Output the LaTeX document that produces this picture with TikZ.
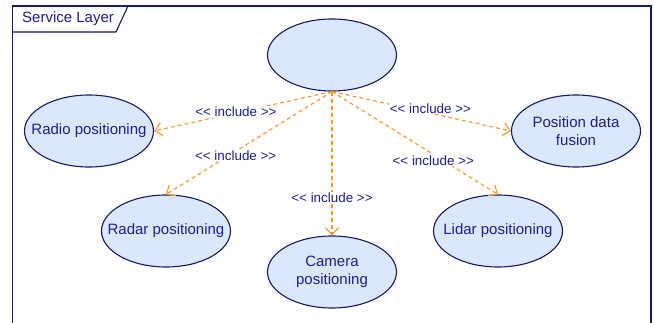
\documentclass[tikz,border=0pt]{standalone}
\usepackage{fontspec}
\setmainfont[Ligatures=NoCommon]{Liberation Sans}
\usetikzlibrary{shapes.geometric,arrows.meta}
\definecolor{navy}{RGB}{24,24,110}
\definecolor{txtblue}{RGB}{30,30,150}
\definecolor{ucfill}{RGB}{218,232,252}
\definecolor{incor}{RGB}{255,150,40}
\newcommand{\inctext}{{<}{<} include {>}{>}}
\tikzset{
  usecase/.style={ellipse,draw=navy,line width=1.1pt,fill=ucfill,minimum width=129pt,minimum height=72pt,inner sep=0pt,
    label={[text=txtblue,font=\fontsize{15}{18}\selectfont,align=center]center:#1}},
  usecase/.default={},
  inc/.style={draw=incor,line width=1.1pt,dash pattern=on 4pt off 3pt,-{Straight Barb[length=7pt,width=13pt,line width=1.1pt]}},
  inclbl/.style={fill=white,inner sep=1pt,text=txtblue,font=\fontsize{13.4}{15}\selectfont},
  framelbl/.style={text=txtblue,font=\fontsize{15}{18}\selectfont,anchor=west,inner sep=0pt}
}
\begin{document}
\begin{tikzpicture}[x=1pt,y=-1pt]
\useasboundingbox (0,0) rectangle (654,323);
\fill[white] (0,0) rectangle (654,323);
% frame
\draw[navy,line width=1.1pt] (12.5,323) -- (12.5,6) -- (651,6) -- (651,323);
\draw[navy,line width=1.1pt] (12.5,32) -- (116,32) -- (128,6);
\node[framelbl] (title) at (22,19) {Service Layer};
% use cases
\node[usecase] (top) at (332,55) {};
\node[usecase={Radio positioning}] (radio) at (89,131) {};
\node[usecase={Position data\\fusion}] (fusion) at (576,131) {};
\node[usecase={Radar positioning}] (radar) at (166,231) {};
\node[usecase={Lidar positioning}] (lidar) at (498,231) {};
\node[usecase={Camera\\positioning}] (camera) at (332,272) {};
% include relations
\draw[inc] (top.south) -- node[inclbl,pos=0.54,yshift=1pt] {\inctext} (radio.east);
\draw[inc] (top.south) -- node[inclbl,pos=0.58,yshift=-4pt] {\inctext} (radar.north);
\draw[inc] (top.south) -- node[inclbl,pos=0.74] {\inctext} (camera.north);
\draw[inc] (top.south) -- node[inclbl,pos=0.61,yshift=-6pt] {\inctext} (lidar.north);
\draw[inc] (top.south) -- node[inclbl,pos=0.55,yshift=5pt] {\inctext} (fusion.west);
\end{tikzpicture}
\end{document}
